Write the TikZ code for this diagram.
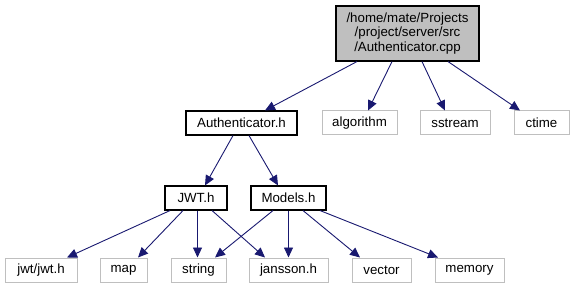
\documentclass[tikz,border=0pt]{standalone}
\usepackage{fontspec}
\setmainfont{Liberation Sans}
\usetikzlibrary{arrows.meta}
\definecolor{edgeblue}{HTML}{191970}
\definecolor{extgray}{HTML}{BFBFBF}

\begin{document}
\begin{tikzpicture}[x=1pt,y=-1pt,
	every node/.style={font=\fontsize{13.3}{14.5}\selectfont, inner sep=0pt, minimum height=24pt},
	root/.style={draw=black, line width=1.1pt, fill=extgray, align=center},
	hdr/.style={draw=black, line width=1.1pt, fill=white},
	sys/.style={draw=extgray, line width=1pt, fill=white},
	dep/.style={draw=edgeblue, line width=0.9pt, -{Triangle[length=10pt,width=9pt]}}]
	\useasboundingbox (0,0) rectangle (575,291);
	% source file and what it includes
	\node[root, minimum width=143pt, minimum height=55pt] (cpp) at (407.5,33.5)
		{/home/mate/Projects\\/project/server/src\\/Authenticator.cpp};
	\node[hdr, minimum width=111pt] (auth) at (241.5,123) {Authenticator.h};
	\node[sys, minimum width=75pt] (algorithm) at (359.5,123) {algorithm};
	\node[sys, minimum width=70pt] (sstream) at (455,123) {sstream};
	\node[sys, minimum width=55pt] (ctime) at (541.5,123) {ctime};
	% second level
	\node[hdr, minimum width=62pt] (jwt) at (196,198) {JWT.h};
	\node[hdr, minimum width=75pt] (models) at (288.5,198) {Models.h};
	% leaves
	\node[sys, minimum width=72pt] (jwtlib) at (41,270) {jwt/jwt.h};
	\node[sys, minimum width=47pt] (map) at (123.5,270) {map};
	\node[sys, minimum width=55pt] (string) at (198.5,270) {string};
	\node[sys, minimum width=79pt] (jansson) at (288.5,270) {jansson.h};
	\node[sys, minimum width=59pt] (vector) at (381.5,270) {vector};
	\node[sys, minimum width=69pt] (memory) at (469.5,270) {memory};

	\draw[dep] ([xshift=-50.5pt]cpp.south) -- ([xshift=23.5pt]auth.north);
	\draw[dep] ([xshift=-15.5pt]cpp.south) -- ([xshift=8.5pt]algorithm.north);
	\draw[dep] ([xshift=14.5pt]cpp.south) -- ([xshift=-10pt]sstream.north);
	\draw[dep] ([xshift=40.5pt]cpp.south) -- ([xshift=-21.5pt]ctime.north);

	\draw[dep] ([xshift=-8.5pt]auth.south) -- ([xshift=9pt]jwt.north);
	\draw[dep] ([xshift=7.5pt]auth.south) -- ([xshift=-10.5pt]models.north);

	\draw[dep] ([xshift=-26pt]jwt.south) -- ([xshift=26pt]jwtlib.north);
	\draw[dep] ([xshift=-13pt]jwt.south) -- ([xshift=14.5pt]map.north);
	\draw[dep] ([xshift=1.5pt]jwt.south) -- ([xshift=-1pt]string.north);
	\draw[dep] ([xshift=16pt]jwt.south) -- ([xshift=-23.5pt]jansson.north);

	\draw[dep] ([xshift=-15.5pt]models.south) -- ([xshift=16.5pt]string.north);
	\draw[dep] (models.south) -- (jansson.north);
	\draw[dep] ([xshift=14.5pt]models.south) -- ([xshift=-21.5pt]vector.north);
	\draw[dep] ([xshift=31.5pt]models.south) -- ([xshift=-31.5pt]memory.north);
\end{tikzpicture}
\end{document}
